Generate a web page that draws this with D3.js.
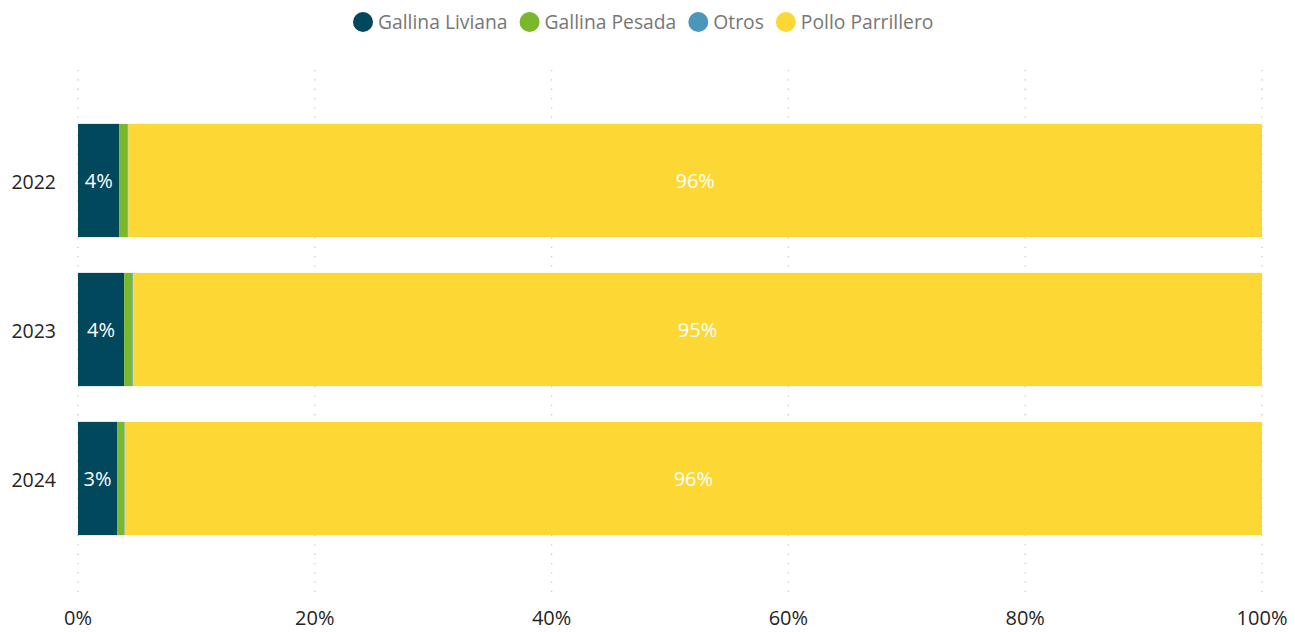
<!DOCTYPE html>
<html>
<head>
<meta charset="utf-8">
<script src="https://cdn.jsdelivr.net/npm/d3@7"></script>
<style>
  body { margin: 0; background: #fff; }
  svg { display: block; font-family: "Open Sans", "Noto Sans", sans-serif; }
</style>
</head>
<body>
<div id="chart"></div>
<script>
const years = ["2022", "2023", "2024"];
const series = ["Gallina Liviana", "Gallina Pesada", "Otros", "Pollo Parrillero"];
const gallinaLiviana = [3.5, 3.9, 3.3];
const gallinaPesada = [0.7, 0.7, 0.6];
const otros = [0.05, 0.05, 0.05];
const polloParrillero = [95.75, 95.35, 96.05];
const labelTexts = [["4%", "", "", "96%"], ["4%", "", "", "95%"], ["3%", "", "", "96%"]];
const xTicks = [0, 20, 40, 60, 80, 100];
const colors = ["#02485C", "#79B72B", "#4A97BA", "#FDD835"];

render();

function render() {
    const width = 1295, height = 632;
    const margin = { top: 50, right: 33, bottom: 40, left: 78 };

    const svg = d3.select('#chart').append('svg')
        .attr('width', width)
        .attr('height', height);

    const rows = years.map((y, i) => ({
        year: y,
        "Gallina Liviana": gallinaLiviana[i],
        "Gallina Pesada": gallinaPesada[i],
        "Otros": otros[i],
        "Pollo Parrillero": polloParrillero[i],
        idx: i
    }));

    const stacked = d3.stack().keys(series)(rows);

    const x = d3.scaleLinear()
        .domain([0, 100])
        .range([margin.left, margin.left + 1184]);

    const y = d3.scaleBand()
        .domain(years)
        .range([106, 553])
        .paddingInner(0.24)
        .paddingOuter(0.12);

    // dotted vertical gridlines
    svg.append('g')
        .selectAll('line')
        .data(xTicks)
        .join('line')
        .attr('x1', d => x(d))
        .attr('x2', d => x(d))
        .attr('y1', 70)
        .attr('y2', 592)
        .attr('stroke', '#c8c8c8')
        .attr('stroke-width', 1.3)
        .attr('stroke-dasharray', '1.3,8');

    // x tick labels
    svg.append('g')
        .selectAll('text')
        .data(xTicks)
        .join('text')
        .attr('x', d => x(d))
        .attr('y', 625)
        .attr('text-anchor', 'middle')
        .style('font-size', '20px')
        .style('fill', '#252423')
        .text(d => d + '%');

    // y labels
    svg.append('g')
        .selectAll('text')
        .data(years)
        .join('text')
        .attr('x', 56)
        .attr('y', d => y(d) + y.bandwidth() / 2 + 2)
        .attr('dy', '0.35em')
        .attr('text-anchor', 'end')
        .style('font-size', '19.5px')
        .style('fill', '#252423')
        .text(d => d);

    // bars
    const layer = svg.append('g')
        .selectAll('g')
        .data(stacked)
        .join('g')
        .attr('fill', (d, i) => colors[i]);

    layer.selectAll('rect')
        .data(d => d)
        .join('rect')
        .attr('x', d => x(d[0]))
        .attr('y', d => y(d.data.year))
        .attr('width', d => x(d[1]) - x(d[0]))
        .attr('height', y.bandwidth());

    // data labels
    layer.each(function (s, si) {
        d3.select(this).selectAll('text')
            .data(s)
            .join('text')
            .attr('x', d => (x(d[0]) + x(d[1])) / 2)
            .attr('y', d => y(d.data.year) + y.bandwidth() / 2)
            .attr('dy', '0.35em')
            .attr('text-anchor', 'middle')
            .style('font-size', '20px')
            .style('fill', '#ffffff')
            .text(d => labelTexts[d.data.idx][si]);
    });

    // legend
    const legend = svg.append('g');
    let lx = 353;
    series.forEach((name, i) => {
        const item = legend.append('g');
        item.append('circle')
            .attr('cx', lx + 10)
            .attr('cy', 22)
            .attr('r', 10)
            .attr('fill', colors[i]);
        const t = item.append('text')
            .attr('x', lx + 25)
            .attr('y', 22)
            .attr('dy', '0.35em')
            .style('font-size', '19.3px')
            .style('fill', '#777777')
            .text(name);
        lx += 25 + t.node().getComputedTextLength() + 12;
    });
}
</script>
</body>
</html>
